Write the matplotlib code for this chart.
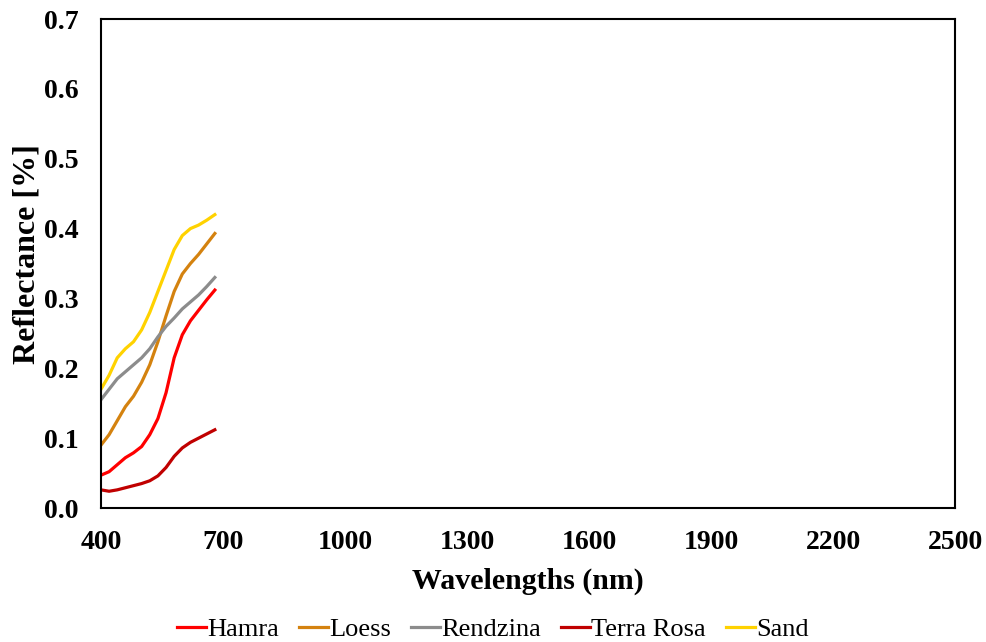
import matplotlib.pyplot as plt
import numpy as np

wl = [400, 420, 440, 460, 480, 500, 520, 540, 560, 580, 600, 620, 640, 660, 680]

hamra = [0.047, 0.052, 0.062, 0.072, 0.079, 0.088, 0.105, 0.128, 0.165, 0.215, 0.248, 0.268, 0.283, 0.298, 0.312]
loess = [0.090, 0.105, 0.125, 0.145, 0.160, 0.180, 0.205, 0.238, 0.275, 0.310, 0.335, 0.350, 0.363, 0.378, 0.393]
rendzina = [0.155, 0.170, 0.185, 0.195, 0.205, 0.215, 0.228, 0.245, 0.260, 0.272, 0.285, 0.295, 0.305, 0.317, 0.330]
terra_rosa = [0.026, 0.024, 0.026, 0.029, 0.032, 0.035, 0.039, 0.046, 0.058, 0.074, 0.086, 0.094, 0.100, 0.106, 0.112]
sand = [0.170, 0.190, 0.215, 0.228, 0.238, 0.255, 0.280, 0.310, 0.340, 0.370, 0.390, 0.400, 0.405, 0.412, 0.420]

names = ['Hamra', 'Loess', 'Rendzina', 'Terra Rosa', 'Sand']
colors = ['#FF0000', '#D4820F', '#8C8C8C', '#C00000', '#FFD200']

plt.rcParams['font.family'] = ['Liberation Serif', 'DejaVu Serif']

fig = plt.figure(figsize=(9.86, 6.42), dpi=100)
ax = fig.add_axes([0.1024, 0.2087, 0.8662, 0.7617])

for y, c, n in zip([hamra, loess, rendzina, terra_rosa, sand], colors, names):
    ax.plot(wl, y, color=c, lw=2.3, label=n)

ax.set_xlim(400, 2500)
ax.set_ylim(0, 0.7)
ax.set_xticks(np.arange(400, 2501, 300))
ax.set_yticks(np.arange(0, 0.71, 0.1))
ax.set_yticklabels(['%.1f' % v for v in np.arange(0, 0.71, 0.1)])
ax.tick_params(length=0, labelsize=20)
ax.tick_params(axis='x', pad=16)
ax.tick_params(axis='y', pad=16)
for lab in ax.get_xticklabels() + ax.get_yticklabels():
    lab.set_fontweight('bold')
for s in ax.spines.values():
    s.set_linewidth(1.5)

ax.set_xlabel('Wavelengths (nm)', fontsize=21.5, fontweight='bold', labelpad=9)
ax.set_ylabel('Reflectance [%]', fontsize=23, fontweight='bold')
ax.yaxis.set_label_coords(-0.07, 0.52)

fig.legend(loc='center', bbox_to_anchor=(0.5, 1 - 629 / 642), ncol=5, frameon=False,
           fontsize=19, handlelength=1.1, handletextpad=0.05, columnspacing=0.75)

fig.savefig('out.png', dpi=100)
